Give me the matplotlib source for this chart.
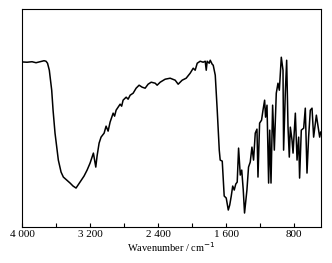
import matplotlib
matplotlib.use("Agg")
import matplotlib.pyplot as plt
from matplotlib.ticker import FixedLocator

wavenumber = [4000, 3941, 3882, 3835, 3788, 3741, 3718, 3700, 3679, 3651, 3635, 3612, 3573, 3541, 3514,
              3474, 3435, 3400, 3365, 3318, 3271, 3235, 3200, 3176, 3161, 3147, 3133, 3118, 3094, 3071,
              3035, 3012, 2988, 2965, 2929, 2912, 2894, 2871, 2847, 2829, 2812, 2776, 2753, 2729, 2694,
              2659, 2624, 2588, 2553, 2518, 2482, 2435, 2412, 2376, 2318, 2259, 2200, 2165, 2118, 2071,
              2024, 1988, 1965, 1941, 1906, 1871, 1847, 1835, 1824, 1800, 1788, 1765, 1753, 1729, 1706,
              1682, 1671, 1647, 1624, 1600, 1576, 1559, 1541, 1524, 1506, 1488, 1471, 1455, 1435, 1418,
              1400, 1385, 1357, 1338, 1318, 1298, 1279, 1259, 1239, 1227, 1208, 1185, 1168, 1149, 1138,
              1121, 1102, 1089, 1074, 1055, 1035, 1012, 992, 976, 953, 933, 926, 906, 890, 874,
              859, 847, 827, 815, 788, 768, 749, 738, 718, 690, 671, 651, 632, 612, 592,
              573, 541, 520, 502, 490]
transmittance = [165.3, 165, 165.5, 164.5, 165.5, 166.5, 166, 164, 157, 137, 117, 94, 67, 55, 50,
                 47, 44, 41, 39, 45, 51, 57, 64, 70, 74, 67, 60, 71, 84, 90,
                 94, 101, 96, 105, 114, 111, 117, 120, 123, 121, 127, 130, 128, 132, 134,
                 139, 142, 140, 139, 143, 145, 144, 142, 145, 148, 149, 147, 143, 147, 149,
                 154, 159, 157, 164, 166, 165, 166, 157, 166, 164, 167, 163, 162, 152, 117,
                 77, 67, 66, 31, 29, 17, 22, 31, 41, 37, 43, 45, 79, 52, 57,
                 37, 14, 37, 60, 65, 80, 67, 94, 98, 50, 104, 107, 117, 127, 110,
                 122, 44, 97, 44, 122, 77, 134, 144, 137, 170, 157, 77, 134, 167, 100,
                 70, 100, 87, 74, 114, 67, 90, 49, 97, 99, 119, 54, 90, 117, 119,
                 90, 112, 100, 90, 95]

major_ticks = [4000, 3200, 2400, 1600, 800]
major_labels = ["4 000", "3 200", "2 400", "1 600", "800"]
minor_ticks = [3600, 2800, 2000, 1200]

plt.rcParams['font.family'] = ['Liberation Serif', 'DejaVu Serif']

fig = plt.figure(figsize=(3.32, 2.63), dpi=100)
ax = fig.add_axes([22/332, 1-227/263, (320.7-22)/332, (227-9.3)/263])
ax.plot(wavenumber, transmittance, color='black', linewidth=1.1)
ax.set_xlim(4000, 490)
ax.set_ylim(0, 218)
ax.set_yticks([])
ax.xaxis.set_major_locator(FixedLocator(major_ticks))
ax.set_xticklabels(major_labels, fontsize=8)
ax.xaxis.set_minor_locator(FixedLocator(minor_ticks))
ax.tick_params(axis='x', which='both', direction='in', length=3, width=0.8, pad=2)
for s in ax.spines.values():
    s.set_linewidth(0.8)
ax.set_xlabel("Wavenumber / cm$^{-1}$", fontsize=7.5, labelpad=1)
fig.savefig("out.png", dpi=100)
